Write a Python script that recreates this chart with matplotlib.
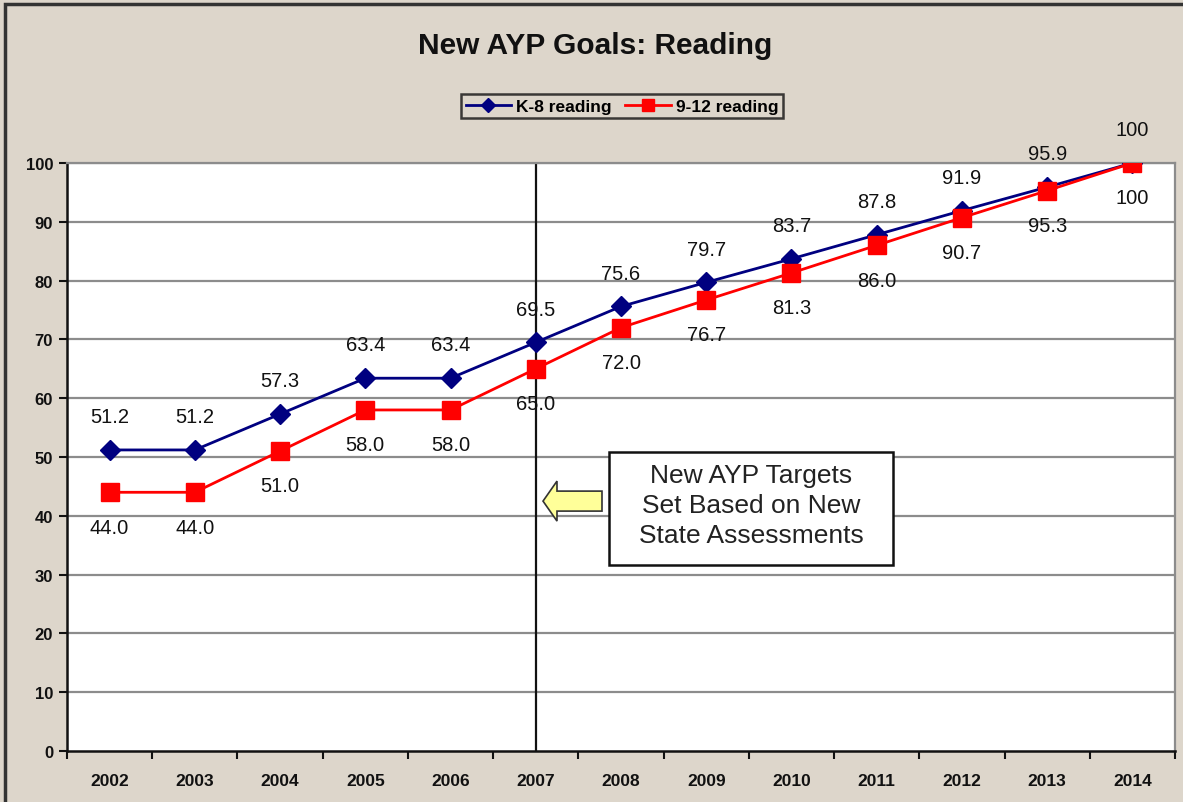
import matplotlib
matplotlib.use("Agg")
import matplotlib.pyplot as plt
from matplotlib.patches import Polygon, Rectangle

# chart data
years = ["2002", "2003", "2004", "2005", "2006", "2007", "2008",
         "2009", "2010", "2011", "2012", "2013", "2014"]
k8_reading = [51.2, 51.2, 57.3, 63.4, 63.4, 69.5, 75.6, 79.7, 83.7, 87.8, 91.9, 95.9, 100]
hs_reading = [44.0, 44.0, 51.0, 58.0, 58.0, 65.0, 72.0, 76.7, 81.3, 86.0, 90.7, 95.3, 100]
k8_labels = ["51.2", "51.2", "57.3", "63.4", "63.4", "69.5", "75.6",
             "79.7", "83.7", "87.8", "91.9", "95.9", "100"]
hs_labels = ["44.0", "44.0", "51.0", "58.0", "58.0", "65.0", "72.0",
             "76.7", "81.3", "86.0", "90.7", "95.3", "100"]
y_ticks = [0, 10, 20, 30, 40, 50, 60, 70, 80, 90, 100]
marker_year = "2007"

plt.rcParams['font.family'] = ['Liberation Sans', 'DejaVu Sans']

bg = '#DDD6CB'
fig = plt.figure(figsize=(11.83, 8.03), dpi=100, facecolor=bg)
ax = fig.add_axes([67 / 1183, 51 / 803, 1108 / 1183, 588 / 803])
ax.set_facecolor('white')

# outer chart border
fig.patches.append(Rectangle((5 / 1183, -0.1), 1.2, (803 - 5) / 803 + 0.1,
                             transform=fig.transFigure, fill=False,
                             edgecolor='#333333', linewidth=2.5))

x = list(range(len(years)))
ax.set_xlim(-0.5, len(years) - 0.5)
ax.set_ylim(0, 100)

for t in y_ticks[1:]:
    ax.axhline(t, color='#8c8c8c', linewidth=1.6, zorder=1)

# vertical line at 2007
vx = years.index(marker_year)
ax.axvline(vx, color='#111111', linewidth=1.6, zorder=2)

ax.plot(x, k8_reading, color='#000080', linewidth=2, marker='D', markersize=10.5,
        label='K-8 reading', zorder=4)
ax.plot(x, hs_reading, color='#FF0000', linewidth=2, marker='s', markersize=13,
        label='9-12 reading', zorder=5)

for xi, v, lab in zip(x, k8_reading, k8_labels):
    ax.annotate(lab, (xi, v), xytext=(0, 24), textcoords='offset points',
                ha='center', va='center', fontsize=14.5, color='#111111')
for xi, v, lab in zip(x, hs_reading, hs_labels):
    ax.annotate(lab, (xi, v), xytext=(0, -25), textcoords='offset points',
                ha='center', va='center', fontsize=14.5, color='#111111')

# annotation box and yellow arrow
ax.add_patch(Rectangle((5.86, 31.6), 3.33, 19.25, facecolor='white',
                       edgecolor='#111111', linewidth=1.8, zorder=6))
ax.text(7.525, 41.8, "New AYP Targets\nSet Based on New\nState Assessments",
        ha='center', va='center', fontsize=19, color='#222222',
        linespacing=1.32, zorder=7)
arrow_pts = [(5.085, 42.5), (5.249, 45.9), (5.249, 44.2), (5.777, 44.2),
             (5.777, 40.8), (5.249, 40.8), (5.249, 39.1)]
ax.add_patch(Polygon(arrow_pts, closed=True, facecolor='#FFFF99',
                     edgecolor='#333333', linewidth=1.2, zorder=6))

# axes styling
ax.set_yticks(y_ticks)
ax.set_yticklabels([str(t) for t in y_ticks], fontsize=12, fontweight='bold')
ax.set_xticks(x)
ax.set_xticklabels(years, fontsize=12.5, fontweight='bold')
ax.tick_params(axis='x', length=0, pad=16)
ax.set_xticks([i - 0.5 for i in range(len(years) + 1)], minor=True)
ax.tick_params(axis='x', which='minor', length=6, width=1.5, color='#111111')
ax.tick_params(axis='y', length=6, width=1.5, color='#111111', pad=4)
ax.spines['left'].set_color('#111111')
ax.spines['bottom'].set_color('#111111')
ax.spines['left'].set_linewidth(1.8)
ax.spines['bottom'].set_linewidth(1.8)
ax.spines['right'].set_color('#8c8c8c')
ax.spines['top'].set_color('#8c8c8c')
ax.spines['right'].set_linewidth(1.6)
ax.spines['top'].set_linewidth(1.6)
for lab in ax.get_xticklabels() + ax.get_yticklabels():
    lab.set_color('#111111')

fig.text(595 / 1183, 1 - 46 / 803, "New AYP Goals: Reading", ha='center',
         va='center', fontsize=21.5, fontweight='bold', color='#111111')

leg = fig.legend(loc='center', bbox_to_anchor=(622 / 1183, 1 - 107 / 803),
                 ncol=2, frameon=True, fancybox=False,
                 prop={'weight': 'bold', 'size': 12.5}, handlelength=2.6,
                 handletextpad=0.3, columnspacing=0.8, borderpad=0.25,
                 borderaxespad=0, markerscale=0.7)
leg.get_frame().set_edgecolor('#111111')
leg.get_frame().set_linewidth(1.8)
leg.get_frame().set_facecolor(bg)

fig.savefig('out.png', dpi=100, facecolor=bg)
